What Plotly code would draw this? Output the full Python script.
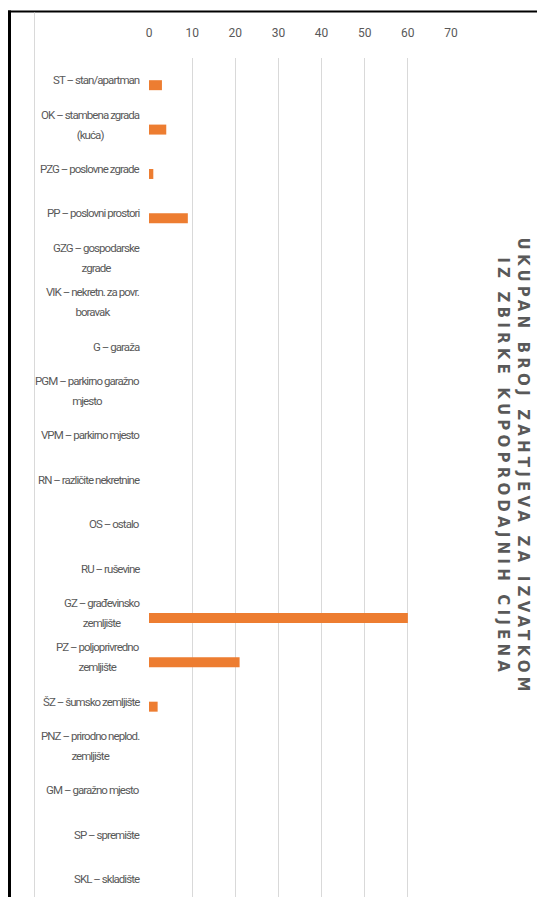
import plotly.graph_objects as go

# ---- data ----
labels = [
    "ST – stan/apartman",
    "OK – stambena zgrada<br>(kuća)",
    "PZG – poslovne zgrade",
    "PP – poslovni prostori",
    "GZG – gospodarske<br>zgrade",
    "VIK – nekretn. za povr.<br>boravak",
    "G – garaža",
    "PGM – parkirno garažno<br>mjesto",
    "VPM – parkirno mjesto",
    "RN – različite nekretnine",
    "OS – ostalo",
    "RU – ruševine",
    "GZ – građevinsko<br>zemljište",
    "PZ – poljoprivredno<br>zemljište",
    "ŠZ – šumsko zemljište",
    "PNZ – prirodno neplod.<br>zemljište",
    "GM – garažno mjesto",
    "SP – spremište",
    "SKL – skladište",
]
values = [3, 4, 1, 9, 0, 0, 0, 0, 0, 0, 0, 0, 60, 21, 2, 0, 0, 0, 0]
x_ticks = [0, 10, 20, 30, 40, 50, 60, 70]
title_lines = ["UKUPAN BROJ ZAHTJEVA ZA IZVATKOM", "IZ ZBIRKE KUPOPRODAJNIH CIJENA"]

# ---- layout geometry (page pixels; the html body adds an 8px margin) ----
OFF = 8
W, H = 545 - OFF, 897 - OFF
ML, MR, MT, MB = 141, 94, 50, 0
PW, PH = W - ML - MR, H - MT - MB

def px_x(page_x):
    return (page_x - OFF - ML) / PW

def px_y(page_y):
    return (H - MB - (page_y - OFF)) / PH

GREY = "#595959"
TICK_FONT = dict(family="Roboto, Liberation Sans, sans-serif", size=12, color=GREY)
# base size sets the line pitch (1.3 em ~ 20px); glyphs are drawn smaller
LABEL_FONT = dict(family="Roboto, Liberation Sans, sans-serif", size=15.4, color=GREY)

def styled(text, css):
    return "<br>".join(
        f"<span style='{css}'>{line}</span>" for line in text.split("<br>")
    )

fig = go.Figure()
fig.add_trace(go.Bar(
    x=values, y=labels, orientation="h",
    width=0.225, offset=0,
    marker=dict(color="#ED7D31", line=dict(width=0)),
    hoverinfo="x+y",
))

annotations = []
for lab in labels:
    annotations.append(dict(
        x=0, xref="paper", y=lab, yref="y",
        text=styled(lab, "font-size:11.5px;letter-spacing:-0.95px"),
        showarrow=False, xanchor="right", yanchor="middle",
        align="center", xshift=-7, font=LABEL_FONT,
    ))
annotations.append(dict(
    x=px_x(512.5), xref="paper", y=px_y(466), yref="paper",
    text=styled("<br>".join(title_lines), "letter-spacing:4.2px"), showarrow=False, textangle=90,
    xanchor="center", yanchor="middle", align="center",
    font=dict(family="DejaVu Sans, sans-serif", size=15, color=GREY, weight="bold"),
))

shapes = [
    # black frame: top and left
    dict(type="line", xref="paper", yref="paper", x0=px_x(8), x1=px_x(545),
         y0=px_y(11.5), y1=px_y(11.5), line=dict(color="black", width=2)),
    dict(type="line", xref="paper", yref="paper", x0=px_x(9.5), x1=px_x(9.5),
         y0=px_y(10.5), y1=px_y(897), line=dict(color="black", width=3)),
    # light chart-area border
    dict(type="line", xref="paper", yref="paper", x0=px_x(34.5), x1=px_x(34.5),
         y0=px_y(12.5), y1=px_y(897), line=dict(color="#D9D9D9", width=1)),
]

fig.update_layout(
    width=W, height=H,
    margin=dict(l=ML, r=MR, t=MT, b=MB, pad=0),
    paper_bgcolor="white", plot_bgcolor="white",
    showlegend=False,
    annotations=annotations,
    shapes=shapes,
    xaxis=dict(
        side="top", range=[0, 70], tickvals=x_ticks,
        showgrid=True, gridcolor="#D9D9D9", gridwidth=1,
        zeroline=False, showline=False, ticks="",
        tickfont=TICK_FONT, ticklabelstandoff=18, fixedrange=True,
    ),
    yaxis=dict(
        type="category", categoryorder="array", categoryarray=labels,
        range=[18.4, -0.5], showticklabels=False, showgrid=False,
        zeroline=False, showline=False, ticks="", fixedrange=True,
    ),
)

fig.write_html("out.html")
